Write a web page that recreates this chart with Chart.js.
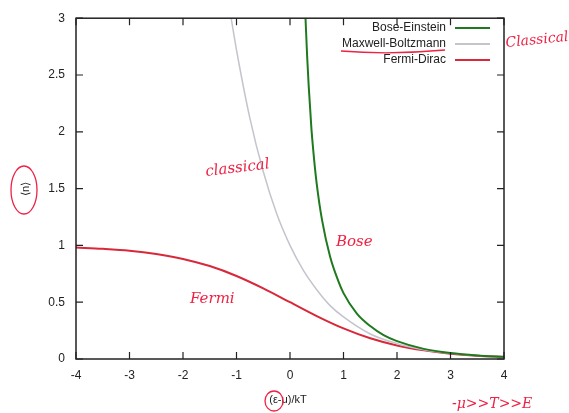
<!DOCTYPE html>
<html>
<head>
<meta charset="utf-8">
<script src="https://cdn.jsdelivr.net/npm/chart.js@4"></script>
<style>
  html, body { margin: 0; padding: 0; background: #fff; }
  #box { width: 569px; height: 413px; }
</style>
</head>
<body>
<div id="box"><canvas id="chart-dist"></canvas></div>
<script>
// valores
var xTicks = [-4, -3, -2, -1, 0, 1, 2, 3, 4]
var yTicks = [0, 0.5, 1, 1.5, 2, 2.5, 3]

var beX = [0.29, 0.32, 0.35, 0.4, 0.45, 0.5, 0.6, 0.75, 0.9, 1, 1.25, 1.5, 1.75, 2, 2.5, 3, 3.5, 4]
var beY = [3.0, 2.67, 2.4, 2.03, 1.76, 1.54, 1.22, 0.9, 0.69, 0.58, 0.4, 0.29, 0.21, 0.157, 0.089, 0.052, 0.031, 0.019]

var mbX = [-1.1, -1, -0.75, -0.5, -0.25, 0, 0.25, 0.5, 0.75, 1, 1.5, 2, 2.5, 3, 3.5, 4]
var mbY = [3.0, 2.72, 2.12, 1.65, 1.28, 1.0, 0.78, 0.61, 0.47, 0.37, 0.22, 0.135, 0.082, 0.05, 0.03, 0.018]

var fdX = [-4, -3.5, -3, -2.5, -2, -1.5, -1, -0.5, 0, 0.5, 1, 1.5, 2, 2.5, 3, 3.5, 4]
var fdY = [0.982, 0.97, 0.953, 0.924, 0.881, 0.818, 0.731, 0.622, 0.5, 0.378, 0.269, 0.182, 0.119, 0.076, 0.047, 0.029, 0.018]

var nomes = ["Bose-Einstein", "Maxwell-Boltzmann", "Fermi-Dirac"]
var cores = ["#1f7a1f", "#c4c4cc", "#d8283a"]

function pontos(xs, ys) {
  var p = []
  for (var i = 0; i < xs.length; i++) {
    p.push({ x: xs[i], y: ys[i] })
  }
  return p
}

const ctx = document.getElementById("chart-dist")
const fonte = "'Liberation Sans', Arial, sans-serif"

// eixos, ticks internos, legenda e anotacoes em vermelho
const moldura = {
  id: "moldura",
  afterDraw(chart) {
    const c = chart.ctx
    const a = chart.chartArea
    const sx = chart.scales.x
    const sy = chart.scales.y
    c.save()
    c.strokeStyle = "#222"
    c.lineWidth = 1.5
    c.strokeRect(a.left, a.top, a.right - a.left, a.bottom - a.top)
    c.lineWidth = 1.2
    xTicks.forEach(function (v) {
      var px = sx.getPixelForValue(v)
      c.beginPath()
      c.moveTo(px, a.bottom); c.lineTo(px, a.bottom - 7)
      c.moveTo(px, a.top); c.lineTo(px, a.top + 7)
      c.stroke()
    })
    yTicks.forEach(function (v) {
      var py = sy.getPixelForValue(v)
      c.beginPath()
      c.moveTo(a.left, py); c.lineTo(a.left + 7, py)
      c.moveTo(a.right, py); c.lineTo(a.right - 7, py)
      c.stroke()
    })

    // legenda
    c.font = "12px " + fonte
    c.textAlign = "right"
    c.textBaseline = "middle"
    for (var i = 0; i < nomes.length; i++) {
      var ly = 28 + i * 16
      c.fillStyle = "#222"
      c.fillText(nomes[i], 446, ly)
      c.strokeStyle = cores[i]
      c.lineWidth = 2
      c.beginPath()
      c.moveTo(455, ly); c.lineTo(490, ly)
      c.stroke()
    }

    // titulos
    c.fillStyle = "#222"
    c.textAlign = "center"
    c.font = "11px " + fonte
    c.fillText("(ε-μ)/kT", 288, 400)
    c.save()
    c.translate(26, 189)
    c.rotate(-Math.PI / 2)
    c.fillText("⟨n⟩", 0, 0)
    c.restore()

    // anotacoes a mao
    c.fillStyle = "#ee2244"
    c.strokeStyle = "#ee2244"
    c.lineWidth = 1.3
    c.font = "italic 15px 'DejaVu Serif', serif"
    c.textAlign = "left"
    c.textBaseline = "alphabetic"
    c.save(); c.translate(506, 47); c.rotate(-0.1); c.font = "italic 14px 'DejaVu Serif', serif"; c.fillText("Classical", 0, 0); c.restore()
    c.save(); c.translate(206, 176); c.rotate(-0.12); c.fillText("classical", 0, 0); c.restore()
    c.fillText("Bose", 336, 246)
    c.fillText("Fermi", 190, 303)
    c.font = "italic 14px 'DejaVu Serif', serif"
    c.fillText("-μ>>T>>E", 452, 408)
    c.beginPath()
    c.moveTo(341, 51)
    c.quadraticCurveTo(390, 55, 445, 50)
    c.stroke()
    c.beginPath()
    c.ellipse(24, 190, 13, 24, 0, 0, Math.PI * 2)
    c.stroke()
    c.beginPath()
    c.ellipse(274, 401, 9, 10, 0, 0, Math.PI * 2)
    c.stroke()
    c.restore()
  }
}

new Chart(ctx, {
  type: "scatter",
  data: {
    datasets: [
      {
        label: nomes[0],
        data: pontos(beX, beY),
        showLine: true,
        borderColor: cores[0],
        borderWidth: 2,
        pointRadius: 0,
        cubicInterpolationMode: "monotone"
      },
      {
        label: nomes[1],
        data: pontos(mbX, mbY),
        showLine: true,
        borderColor: cores[1],
        borderWidth: 1.5,
        pointRadius: 0,
        cubicInterpolationMode: "monotone"
      },
      {
        label: nomes[2],
        data: pontos(fdX, fdY),
        showLine: true,
        borderColor: cores[2],
        borderWidth: 2,
        pointRadius: 0,
        cubicInterpolationMode: "monotone"
      }
    ]
  },
  options: {
    responsive: true,
    maintainAspectRatio: false,
    animation: false,
    layout: {
      padding: { top: 12, right: 65, left: 0, bottom: 0 }
    },
    plugins: {
      legend: { display: false },
      tooltip: { enabled: false }
    },
    scales: {
      x: {
        type: "linear",
        min: -4,
        max: 4,
        afterBuildTicks: function (s) { s.ticks = xTicks.map(function (v) { return { value: v } }) },
        afterFit: function (s) { s.height = 54 },
        grid: { display: false, drawTicks: false },
        border: { display: false },
        ticks: {
          padding: 9,
          color: "#222",
          font: { size: 12, family: fonte },
          callback: function (v) { return String(v) }
        }
      },
      y: {
        min: 0,
        max: 3,
        afterBuildTicks: function (s) { s.ticks = yTicks.map(function (v) { return { value: v } }) },
        afterFit: function (s) { s.width = 76 },
        grid: { display: false, drawTicks: false },
        border: { display: false },
        ticks: {
          padding: 11,
          color: "#222",
          font: { size: 12, family: fonte },
          callback: function (v) { return String(v) }
        }
      }
    }
  },
  plugins: [moldura]
})
</script>
</body>
</html>
